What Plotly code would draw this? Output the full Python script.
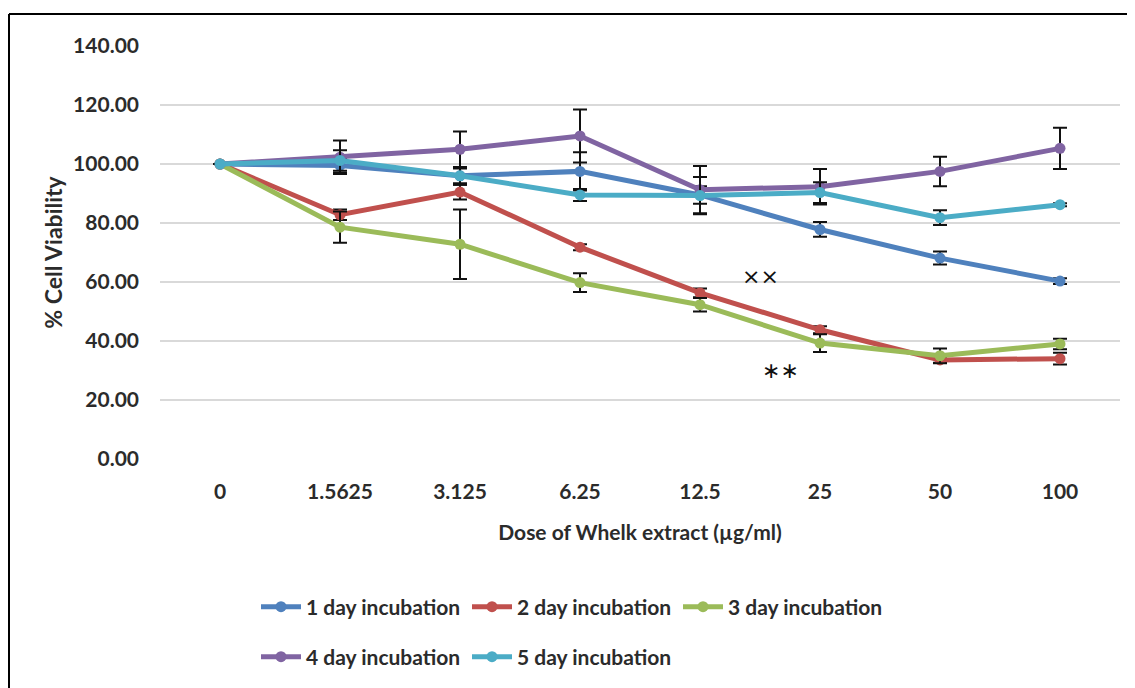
import plotly.graph_objects as go

categories = ["0", "1.5625", "3.125", "6.25", "12.5", "25", "50", "100"]

day1 = [100, 99.5, 96.0, 97.5, 89.5, 77.8, 68.1, 60.3]
err1 = [0, 2.5, 3.0, 6.5, 3.0, 2.5, 2.2, 1.0]
day2 = [100, 82.8, 90.5, 71.8, 56.3, 43.8, 33.6, 34.0]
err2 = [0, 1.8, 2.5, 1.0, 1.5, 1.2, 1.0, 2.0]
day3 = [100, 78.6, 72.8, 59.8, 52.3, 39.3, 35.0, 39.0]
err3 = [0, 5.3, 11.8, 3.2, 2.3, 3.0, 2.5, 1.8]
day4 = [100, 102.3, 105.0, 109.5, 91.3, 92.3, 97.5, 105.3]
err4 = [0, 5.7, 6.0, 9.0, 8.0, 6.0, 5.0, 7.0]
day5 = [100, 101.2, 96.0, 89.5, 89.3, 90.3, 81.8, 86.2]
err5 = [0, 3.5, 2.5, 2.0, 6.3, 3.5, 2.5, 0.5]

series_names = ["1 day incubation", "2 day incubation", "3 day incubation",
                "4 day incubation", "5 day incubation"]
series_vals = [day1, day2, day3, day4, day5]
series_errs = [err1, err2, err3, err4, err5]
colors = ["#4F81BD", "#C0504D", "#9BBB59", "#8064A2", "#4BACC6"]

marks_text = ["××", "∗∗"]
marks_x = [4.5, 4.67]
marks_y = [61.7, 30.0]

FONT = "Lato"
TXT = "#2b2b2b"
FS = 21

# full-window figure; the page's 8px body margin is compensated in the margins
W, H = 1135, 688
L, T = 152, 38
PW, PH = 960, 413
R, B = W - L - PW, H - T - PH

# legend entry anchor positions (figure pixels): column x, row y
leg_x = [248, 459, 670, 248, 459]
leg_y = [599, 599, 599, 649, 649]

fig = go.Figure()
for i, (name, vals, errs, col) in enumerate(zip(series_names, series_vals, series_errs, colors)):
    fig.add_trace(go.Scatter(
        x=categories, y=vals, name=name, mode="lines+markers",
        line=dict(color=col, width=5),
        marker=dict(color=col, size=11),
        error_y=dict(type="data", array=errs, visible=True, color="#111111",
                     thickness=2, width=7),
        legend="legend" if i == 0 else f"legend{i + 1}",
    ))

for t, xx, yy in zip(marks_text, marks_x, marks_y):
    fig.add_annotation(x=xx, y=yy, xref="x", yref="y", text=t, showarrow=False,
                       font=dict(family="DejaVu Sans", size=22, color="#111111"))

legend_layout = {}
for i in range(len(series_names)):
    key = "legend" if i == 0 else f"legend{i + 1}"
    legend_layout[key] = dict(
        orientation="h", x=(leg_x[i] - L) / PW, xanchor="left",
        y=-(leg_y[i] - T - PH) / PH, yanchor="middle",
        itemwidth=40, tracegroupgap=0, bgcolor="rgba(0,0,0,0)",
        font=dict(family=FONT, size=FS, color=TXT, weight="bold"))

fig.update_layout(
    width=W, height=H,
    margin=dict(l=L, r=R, t=T, b=B),
    paper_bgcolor="white", plot_bgcolor="white",
    font=dict(family=FONT, size=FS, color=TXT),
    xaxis=dict(
        type="category", range=[-0.5, 7.5], showgrid=False, showline=False,
        ticks="", ticklabelstandoff=18,
        tickfont=dict(family=FONT, size=FS, color=TXT, weight="bold"),
        title=dict(text="Dose of Whelk extract (µg/ml)", standoff=23,
                   font=dict(family=FONT, size=FS, color=TXT, weight="bold")),
    ),
    yaxis=dict(
        range=[0, 140], dtick=20, tickformat=".2f", showgrid=True,
        gridcolor="#d9d9d9", gridwidth=1.5, zeroline=False, showline=False,
        ticks="", ticklabelstandoff=20,
        tickfont=dict(family=FONT, size=FS, color=TXT, weight="bold"),
        title=dict(text="% Cell Viability", standoff=4,
                   font=dict(family=FONT, size=23, color=TXT, weight="bold")),
    ),
    showlegend=True,
    **legend_layout,
)

# chart frame (top and left border)
top_y = 1 + (T - 6) / PH
left_x = -(L - 1) / PW
fig.add_shape(type="line", xref="paper", yref="paper",
              x0=left_x, x1=1 + R / PW, y0=top_y, y1=top_y,
              line=dict(color="black", width=2))
fig.add_shape(type="line", xref="paper", yref="paper",
              x0=left_x, x1=left_x, y0=top_y, y1=-B / PH,
              line=dict(color="black", width=2))

fig.write_html("out.html")
